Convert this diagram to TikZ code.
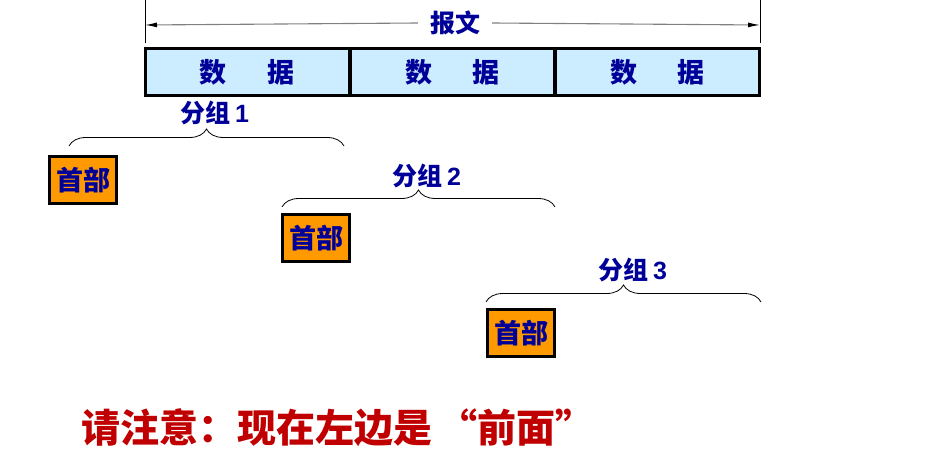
\documentclass[tikz,border=0pt]{standalone}
\usepackage{fontspec}
\setmainfont{Noto Sans CJK SC}
\newfontfamily\latinfont{Liberation Sans}[BoldFont={Liberation Sans Bold}]
\usepackage{tikz}
\usetikzlibrary{positioning}
\usetikzlibrary{arrows.meta}
\usetikzlibrary{decorations.pathreplacing}
\definecolor{datablue}{HTML}{CCECFF}
\definecolor{headorange}{HTML}{FF9900}
\definecolor{textblue}{HTML}{000099}
\definecolor{notered}{HTML}{C00000}
\tikzstyle{databox}=[draw=black,line width=3pt,fill=datablue,minimum width=204pt,minimum height=47pt,inner sep=0pt,text=textblue,font=\fontsize{27}{27}\selectfont\bfseries]
\tikzstyle{headbox}=[draw=black,line width=3pt,fill=headorange,minimum width=67pt,minimum height=47pt,inner sep=0pt,text=textblue,font=\fontsize{27}{27}\selectfont\bfseries]
\tikzstyle{grplabel}=[text=textblue,font=\fontsize{25}{25}\selectfont\bfseries,inner sep=0pt]
\tikzstyle{grpbrace}=[draw,line width=0.8pt,decorate,decoration={brace,amplitude=17pt}]
\tikzstyle{msgarrow}=[draw=black!50,line width=1.1pt,-{Latex[length=12pt,width=5pt,black]}]
\tikzstyle{tick}=[draw,line width=0.7pt]

\begin{document}
\begin{tikzpicture}[x=1pt,y=-1pt]
\useasboundingbox (0,0) rectangle (952,449);

% message
    \foreach \x/\y/\name in {145/0/TLa, 145/43/TLb, 760/0/TRa, 760/43/TRb, 145/25/ML, 760/25/MR}
        \coordinate (\name) at (\x,\y);
    \path[tick] (TLa) -- (TLb);
    \path[tick] (TRa) -- (TRb);
    \node[grplabel, fill=white, inner xsep=12pt] (msg) at (455,23) {报文};
    \path[msgarrow] (msg.west) -- (ML);
    \path[msgarrow] (msg.east) -- (MR);

% data
    \foreach \pos/\name in {{(247,72)/D1}, {(452.5,72)/D2}, {(657.5,72)/D3}}
        \node[databox] (\name) at \pos {数\hspace{1.5em}据};

% packets
    \foreach \pos/\name in {{(83,180)/H1}, {(316,238)/H2}, {(521,333)/H3}}
        \node[headbox] (\name) at \pos {首部};

    \foreach \x/\y/\name in {69/146/B1l, 344/146/B1r, 282/207/B2l, 555/207/B2r, 486/302/B3l, 761/302/B3r}
        \coordinate (\name) at (\x,\y);

    \foreach \source/ \dest /\num/\pos in {B1l/B1r/1/{(215,113)}, B2l/B2r/2/{(427,176)}, B3l/B3r/3/{(633,270)}}
    {
          \path[grpbrace] (\source) -- (\dest);
          \node[grplabel] (G\num) at \pos {分组\,{\latinfont\bfseries\num}};
    }

    \node[anchor=west, text=notered, inner sep=0pt, font=\fontsize{39}{39}\selectfont\bfseries] (note) at (81,428) {请注意：现在左边是\hspace{0.15em}“前面”};

\end{tikzpicture}
\end{document}
